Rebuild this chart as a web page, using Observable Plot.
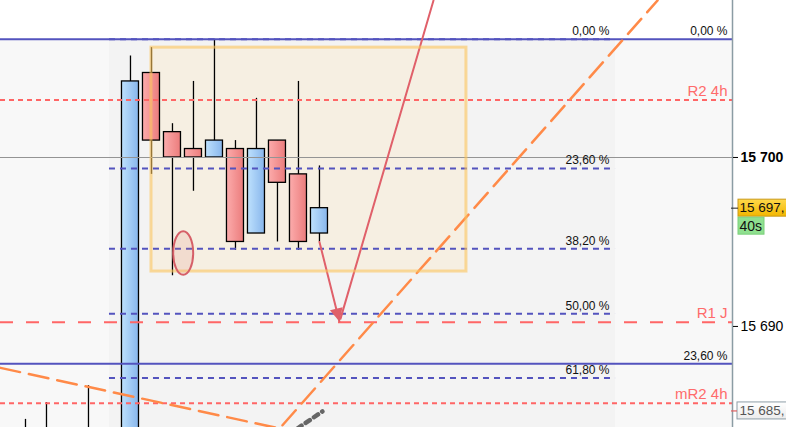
<!DOCTYPE html>
<html>
<head>
<meta charset="utf-8">
<script src="https://cdn.jsdelivr.net/npm/d3@7"></script>
<script src="https://cdn.jsdelivr.net/npm/@observablehq/plot@0.6"></script>
<style>
  html, body { margin: 0; padding: 0; background: #fff; overflow: hidden; }
  #chart { width: 786px; height: 427px; overflow: hidden; }
</style>
</head>
<body>
<svg width="0" height="0" style="position:absolute">
  <defs>
    <linearGradient id="gRed" x1="0" x2="1" y1="0" y2="0">
      <stop offset="0" stop-color="#fcacac"/>
      <stop offset="1" stop-color="#eb7c7c"/>
    </linearGradient>
    <linearGradient id="gBlue" x1="0" x2="1" y1="0" y2="0">
      <stop offset="0" stop-color="#bee1fd"/>
      <stop offset="1" stop-color="#88b6ec"/>
    </linearGradient>
    <linearGradient id="gGold" x1="0" x2="0" y1="0" y2="1">
      <stop offset="0" stop-color="#ffd84a"/>
      <stop offset="1" stop-color="#f2b600"/>
    </linearGradient>
    <linearGradient id="gGray" x1="0" x2="0" y1="0" y2="1">
      <stop offset="0" stop-color="#ffffff"/>
      <stop offset="1" stop-color="#ececec"/>
    </linearGradient>
  </defs>
</svg>
<div id="chart"></div>
<script>
// ---------- data ----------
const candleX     = [0, 1, 2, 3, 4, 5, 6, 7, 8, 9, 10, 11, 12, 13, 14];
const candleOpen  = [15681.5, 15682, 15681, 15682.5, 15680, 15670, 15705, 15701.5, 15700.5, 15700, 15700.5, 15695.5, 15701, 15699, 15695.5];
const candleClose = [15682, 15681, 15682.5, 15682, 15681, 15704.5, 15701, 15700, 15700, 15701, 15695, 15700.5, 15698.5, 15695, 15697];
const candleHigh  = [15684.5, 15685.5, 15683.5, 15686.5, 15683.5, 15706, 15706.5, 15702, 15704.5, 15707, 15701, 15703.5, 15701, 15704.5, 15699.5];
const candleLow   = [15679, 15679, 15679, 15679, 15678, 15668, 15699, 15693, 15698, 15700, 15694.5, 15695.5, 15695, 15694.5, 15695];

const fibLeftLevels = [15707, 15699.35, 15694.6, 15690.75, 15686.95];
const fibLeftLabels = ["0,00 %", "23,60 %", "38,20 %", "50,00 %", "61,80 %"];
const fibLeftRange  = [4, 28.1];        // candle index span of the fib tool
const fibLeftBottom = 15674.6;          // 100 % level
const fibRightLevels = [15707, 15687.8];
const fibRightLabels = ["0,00 %", "23,60 %"];

const pivotNames  = ["R2 4h", "R1 J", "mR2 4h"];
const pivotLevels = [15703.4, 15690.25, 15685.45];
const pivotDash   = ["5,4", "13,13", "5,4"];

const boxX = [6, 21];
const boxY = [15706.5, 15693.25];

const ellipseX = [7.51];
const ellipseY = [15694.35];

const arrowDownX = [14, 14.95];
const arrowDownY = [15695, 15690.3];
const arrowUpX   = [15.0, 19.43];
const arrowUpY   = [15690.45, 15709.29];

const trendX = [-1.19, 12.1, 30.1];
const trendY = [15687.55, 15683.96, 15709.29];

const grayDotX = [12.95, 14.14];
const grayDotY = [15683.96, 15684.97];

const axisTicks = [15700, 15690];
const lastPrice = 15697;
const lastPriceText = "15 697,";
const timerText = "40s";
const lowPrice  = 15685;
const lowPriceText = "15 685,";

const xDomain = [-1.19, 33.67];
const yDomain = [15684.02, 15709.29];

// ---------- helpers ----------
const candles = candleX.map((x, i) => ({x, o: candleOpen[i], c: candleClose[i], h: candleHigh[i], l: candleLow[i]}));
const up = candles.filter(d => d.c >= d.o);
const down = candles.filter(d => d.c < d.o);
const half = 0.405;
const fmtInt = v => d3.format(",.0f")(v).replace(/,/g, " ");

const W = 786, H = 427, MR = 54;
const xs = d3.scaleLinear(xDomain, [0, W - MR]);
const ys = d3.scaleLinear(yDomain, [H, 0]);

// arrowhead symbol (filled triangle, apex at the point, oriented along the arrow)
const adx = xs(arrowDownX[1]) - xs(arrowDownX[0]);
const ady = ys(arrowDownY[1]) - ys(arrowDownY[0]);
const alen = Math.hypot(adx, ady);
const ux = adx / alen, uy = ady / alen;
const headSymbol = {
  draw(ctx) {
    const L = 13, Wd = 6.5;
    ctx.moveTo(0, 0);
    ctx.lineTo(-L * ux - Wd * uy, -L * uy + Wd * ux);
    ctx.lineTo(-L * ux + Wd * uy, -L * uy - Wd * ux);
    ctx.closePath();
  }
};
const ellipseSymbol = {
  draw(ctx) {
    const rx = 10, ry = 21.8, k = 0.5523;
    ctx.moveTo(rx, 0);
    ctx.bezierCurveTo(rx, k * ry, k * rx, ry, 0, ry);
    ctx.bezierCurveTo(-k * rx, ry, -rx, k * ry, -rx, 0);
    ctx.bezierCurveTo(-rx, -k * ry, -k * rx, -ry, 0, -ry);
    ctx.bezierCurveTo(k * rx, -ry, rx, -k * ry, rx, 0);
    ctx.closePath();
  }
};

const font = "Liberation Sans, Arial, Helvetica, sans-serif";
const blue = "#5353be";
const red = "#ff6666";

const chart = Plot.plot({
  width: W,
  height: H,
  marginTop: 0, marginBottom: 0, marginLeft: 0, marginRight: MR,
  x: {domain: xDomain, axis: null},
  y: {domain: yDomain, axis: null},
  style: {fontFamily: font, fontSize: "12px", background: "#fff", overflow: "hidden"},
  marks: [
    // backgrounds
    Plot.rect([0], {y1: fibRightLevels[0], y2: yDomain[0], fill: "#f8f8f8"}),
    Plot.rect([0], {x1: fibLeftRange[0], x2: fibLeftRange[1], y1: fibLeftLevels[0], y2: fibLeftBottom, fill: "#f3f3f3"}),
    // box fill
    Plot.rect([0], {x1: boxX[0], x2: boxX[1], y1: boxY[0], y2: boxY[1], fill: "#fbe9c8", fillOpacity: 0.4}),
    // candles
    Plot.ruleX(candles, {x: "x", y1: "l", y2: "h", stroke: "#000", strokeWidth: 1.3}),
    Plot.rect(down, {x1: d => d.x - half, x2: d => d.x + half, y1: "o", y2: "c", fill: "url(#gRed)", stroke: "#000", strokeWidth: 1.3}),
    Plot.rect(up, {x1: d => d.x - half, x2: d => d.x + half, y1: "o", y2: "c", fill: "url(#gBlue)", stroke: "#000", strokeWidth: 1.3}),
    // horizontal levels
    Plot.ruleY([axisTicks[0]], {stroke: "#949494", strokeWidth: 1.2}),
    Plot.ruleY(fibRightLevels, {stroke: blue, strokeWidth: 2}),
    Plot.ruleY(fibLeftLevels, {x1: fibLeftRange[0], x2: fibLeftRange[1], stroke: blue, strokeWidth: 2, strokeDasharray: "6,5"}),
    ...pivotLevels.map((v, i) => Plot.ruleY([v], {stroke: red, strokeWidth: 2, strokeDasharray: pivotDash[i]})),
    // trend / drawings
    Plot.line(trendX.map((x, i) => [x, trendY[i]]), {stroke: "#ff8a48", strokeWidth: 2.5, strokeDasharray: "20,9"}),
    Plot.line(grayDotX.map((x, i) => [x, grayDotY[i]]), {stroke: "#666", strokeWidth: 4.5, strokeDasharray: "5,5"}),
    Plot.line(arrowDownX.map((x, i) => [x, arrowDownY[i]]), {stroke: "#e0606a", strokeWidth: 2}),
    Plot.line(arrowUpX.map((x, i) => [x, arrowUpY[i]]), {stroke: "#e0606a", strokeWidth: 2}),
    Plot.dot([[arrowDownX[1], arrowDownY[1]]], {x: d => d[0], y: d => d[1], symbol: headSymbol, r: 6, fill: "#e0606a", stroke: "none"}),
    // box outline
    Plot.rect([0], {x1: boxX[0], x2: boxX[1], y1: boxY[0], y2: boxY[1], fill: "none", stroke: "#fcc55e", strokeOpacity: 0.6, strokeWidth: 3}),
    // ellipse
    Plot.dot([[ellipseX[0], ellipseY[0]]], {x: d => d[0], y: d => d[1], symbol: ellipseSymbol, r: 10, fill: "#e07a72", fillOpacity: 0.16, stroke: "#d65f68", strokeWidth: 2}),
    // level labels
    Plot.text(fibLeftLevels, {x: fibLeftRange[1], y: d => d, text: (d, i) => fibLeftLabels[i], textAnchor: "end", lineAnchor: "bottom", dx: -6, dy: -4, fontSize: 12, fill: "#111", fontFamily: font}),
    Plot.text(fibRightLevels, {frameAnchor: "right", y: d => d, text: (d, i) => fibRightLabels[i], textAnchor: "end", lineAnchor: "bottom", dx: -5, dy: -4, fontSize: 12, fill: "#111", fontFamily: font}),
    Plot.text(pivotLevels, {frameAnchor: "right", y: d => d, text: (d, i) => pivotNames[i], textAnchor: "end", lineAnchor: "bottom", dx: -5, dy: -4, fontSize: 15, fill: "#ff6b6b", fontFamily: font}),
    // right price axis
    Plot.ruleX([xDomain[1]], {stroke: "#8b9ca4", strokeWidth: 1.5}),
    Plot.axisY([axisTicks[0]], {anchor: "right", tickSize: 5, tickPadding: 3, tickFormat: fmtInt, fontSize: 14, fontWeight: "bold", label: null, fontFamily: font}),
    Plot.axisY([axisTicks[1]], {anchor: "right", tickSize: 5, tickPadding: 3, tickFormat: fmtInt, fontSize: 14, label: null, fontFamily: font}),
    // price labels
    Plot.rect([lastPrice], {y1: d => d, y2: d => d, insetTop: -8.5, insetBottom: -8.5, insetLeft: 738, insetRight: -60, fill: "url(#gGold)", stroke: "#c99a1a", strokeWidth: 1}),
    Plot.rect([lastPrice], {y1: d => d, y2: d => d, insetTop: 9.5, insetBottom: -26.5, insetLeft: 738, insetRight: -32, fill: "#8fe08f", stroke: "#7bcf7b", strokeWidth: 1}),
    Plot.ruleY([lastPrice], {insetLeft: 731, insetRight: -6, stroke: "#222", strokeWidth: 1}),
    Plot.text([lastPrice], {frameAnchor: "right", y: d => d, text: () => lastPriceText, textAnchor: "start", dx: 7, fontSize: 13.5, fill: "#111", fontFamily: font}),
    Plot.text([lastPrice], {frameAnchor: "right", y: d => d, text: () => timerText, textAnchor: "start", dx: 7, dy: 18, fontSize: 14, fill: "#111", fontFamily: font}),
    Plot.rect([lowPrice], {y1: d => d, y2: d => d, insetTop: -8.5, insetBottom: -8.5, insetLeft: 737, insetRight: -60, fill: "url(#gGray)", stroke: "#8e9ea6", strokeWidth: 1}),
    Plot.ruleY([lowPrice], {insetLeft: 731, insetRight: -5, stroke: "#e06060", strokeWidth: 1.2}),
    Plot.text([lowPrice], {frameAnchor: "right", y: d => d, text: () => lowPriceText, textAnchor: "start", dx: 7, fontSize: 13.5, fill: "#555", fontFamily: font})
  ]
});
document.getElementById("chart").appendChild(chart);
</script>
</body>
</html>
